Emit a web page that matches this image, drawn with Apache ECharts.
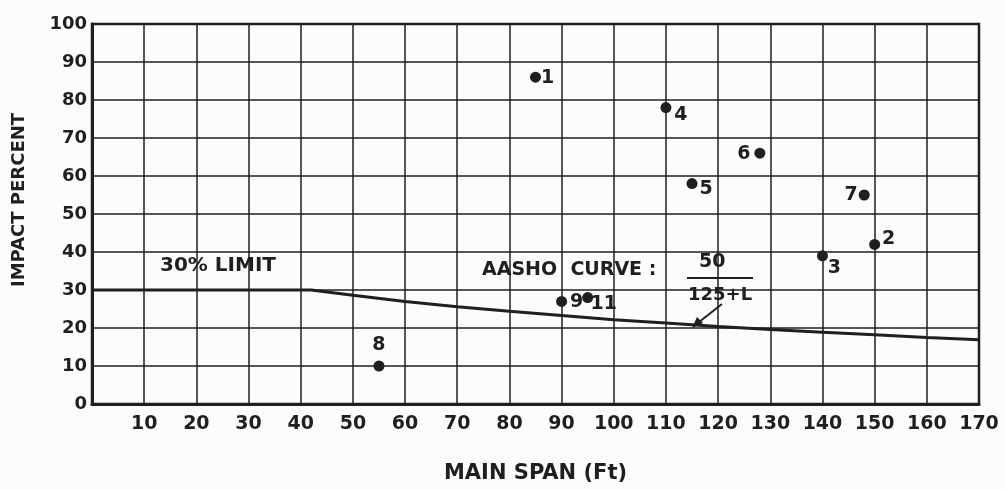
<!DOCTYPE html>
<html>
<head>
<meta charset="utf-8">
<script src="https://cdn.jsdelivr.net/npm/echarts@6/dist/echarts.min.js"></script>
<style>
  html, body { margin: 0; padding: 0; background: #fcfcfa; }
  #chart { width: 1005px; height: 489px; }
</style>
</head>
<body>
<div id="chart"></div>
<script>
// measured bridges: main span (ft) vs impact (%)
var pointIds = ['1', '2', '3', '4', '5', '6', '7', '8', '9', '11'];
var spanFt = [85, 150, 140, 110, 115, 128, 148, 55, 90, 95];
var impactPct = [86, 42, 39, 78, 58, 66, 55, 10, 27, 28];

// AASHO curve (30% limit, then 50/(125+L))
var curveSpan = [0, 42, 50, 60, 70, 80, 90, 100, 110, 120, 130, 140, 150, 160, 170];
var curveImpact = [30, 30, 28.6, 27.0, 25.6, 24.4, 23.3, 22.2, 21.3, 20.4, 19.6, 18.9, 18.2, 17.5, 16.9];

var xTicks = [0, 170, 10];
var yTicks = [0, 100, 10];

var ink = '#1f1f1f';
var font = 'DejaVu Sans';

// label offsets for each point (dx, dy from dot centre)
var labelOffset = {
  '1': [12, 1], '2': [14, -5], '3': [12, 12], '4': [15, 7], '5': [14, 5],
  '6': [-16, 1], '7': [-13, 0], '8': [0, -21], '9': [15, 1], '11': [16, 6]
};

var chart = echarts.init(document.getElementById('chart'));

var pts = spanFt.map(function (x, i) {
  return {
    name: pointIds[i],
    value: [x, impactPct[i]],
    label: { offset: labelOffset[pointIds[i]] }
  };
});

var curve = curveSpan.map(function (x, i) { return [x, curveImpact[i]]; });

function txt(s, size) {
  return { text: s, fill: ink, font: 'bold ' + size + 'px "DejaVu Sans"' };
}

chart.setOption({
  backgroundColor: '#fcfcfa',
  animation: false,
  grid: {
    left: 92, right: 26, top: 24, bottom: 83,
    show: true, borderColor: ink, borderWidth: 2.5
  },
  xAxis: {
    type: 'value',
    min: xTicks[0], max: xTicks[1], interval: xTicks[2],
    name: 'MAIN SPAN (Ft)',
    nameLocation: 'middle',
    nameGap: 59,
    nameTextStyle: { color: ink, fontFamily: font, fontWeight: 'bold', fontSize: 21 },
    axisLine: { lineStyle: { color: ink, width: 3 } },
    axisTick: { show: false },
    axisLabel: {
      color: ink, fontFamily: font, fontWeight: 'bold', fontSize: 19, margin: 11,
      formatter: function (v) { return v === 0 ? '' : v; }
    },
    splitLine: { lineStyle: { color: ink, width: 1.5 } }
  },
  yAxis: {
    type: 'value',
    min: yTicks[0], max: yTicks[1], interval: yTicks[2],
    name: 'IMPACT PERCENT',
    nameLocation: 'middle',
    nameGap: 64,
    nameTextStyle: {
      color: ink, fontFamily: font, fontWeight: 'bold', fontSize: 18,
      padding: [0, 0, 0, 28]
    },
    axisLine: { lineStyle: { color: ink, width: 3 } },
    axisTick: { show: false },
    axisLabel: { color: ink, fontFamily: font, fontWeight: 'bold', fontSize: 18, margin: 5 },
    splitLine: { lineStyle: { color: ink, width: 1.5 } }
  },
  series: [
    {
      name: 'AASHO',
      type: 'line',
      data: curve,
      showSymbol: false,
      lineStyle: { color: ink, width: 3 },
      z: 3
    },
    {
      name: 'tests',
      type: 'scatter',
      data: pts,
      symbolSize: 11,
      itemStyle: { color: ink, opacity: 1 },
      label: {
        show: true,
        position: 'inside',
        formatter: '{b}',
        color: ink,
        fontFamily: font,
        fontWeight: 'bold',
        fontSize: 19
      },
      z: 4
    }
  ],
  graphic: [
    { type: 'text', left: 160, top: 256, style: txt('30% LIMIT', 20) },
    { type: 'text', left: 482, top: 261, style: txt('AASHO  CURVE :', 19) },
    { type: 'text', left: 699, top: 253, style: txt('50', 19) },
    { type: 'line', shape: { x1: 687, y1: 278, x2: 753, y2: 278 },
      style: { stroke: ink, lineWidth: 2 } },
    { type: 'text', left: 688, top: 286, style: txt('125+L', 18) },
    { type: 'line', shape: { x1: 722, y1: 304, x2: 694, y2: 326 },
      style: { stroke: ink, lineWidth: 2 } },
    { type: 'polygon', shape: { points: [[692, 328], [697, 317], [703, 323]] },
      style: { fill: ink } }
  ]
});

window.addEventListener('resize', function () { chart.resize(); });
</script>
</body>
</html>
